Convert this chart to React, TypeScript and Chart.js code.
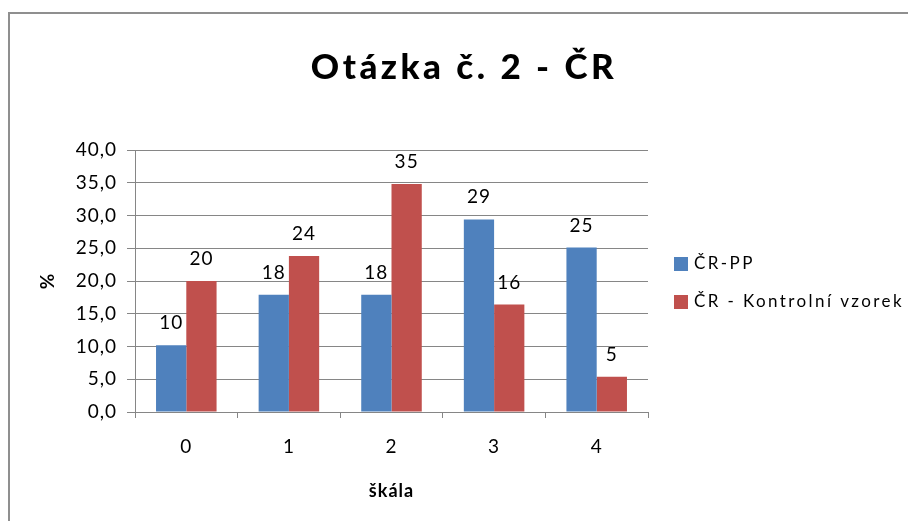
import React, { useEffect, useRef } from 'react';
import { Chart, registerables } from 'chart.js';

Chart.register(...registerables);

const categories = ['0', '1', '2', '3', '4'];
const seriesNames = ['ČR-PP', 'ČR - Kontrolní vzorek'];
const seriesPP = [10.2, 17.9, 17.9, 29.4, 25.1];
const seriesKV = [20.0, 23.8, 34.8, 16.4, 5.4];
const seriesColors = ['#4F81BD', '#C0504D'];
const titleText = 'Otázka č. 2 - ČR';
const xTitleText = 'škála';
const yTitleText = '%';
const yMin = 0;
const yMax = 40;
const yStep = 5;

const FONT = 'Lato, "Open Sans", sans-serif';
const GRID = '#868686';

const spacingPlugin = {
  id: 'spacing',
  beforeDraw(chart: any) {
    try { (chart.ctx as any).letterSpacing = '1px'; } catch (e) {}
  },
};

const titlePlugin = {
  id: 'customTitle',
  afterDraw(chart: any) {
    const ctx = chart.ctx;
    ctx.save();
    ctx.font = `900 35px ${FONT}`;
    ctx.fillStyle = '#000';
    ctx.textAlign = 'center';
    ctx.textBaseline = 'alphabetic';
    try { (ctx as any).letterSpacing = '3.5px'; } catch (e) {}
    ctx.fillText(titleText, 464, 79);
    ctx.restore();
  },
};

const labelPlugin = {
  id: 'barLabels',
  afterDatasetsDraw(chart: any) {
    const ctx = chart.ctx;
    ctx.save();
    ctx.font = `19px ${FONT}`;
    ctx.fillStyle = '#000';
    ctx.textAlign = 'center';
    ctx.textBaseline = 'alphabetic';
    chart.data.datasets.forEach((ds: any, i: number) => {
      const meta = chart.getDatasetMeta(i);
      meta.data.forEach((bar: any, j: number) => {
        const v = ds.data[j];
        ctx.fillText(String(Math.round(v)), bar.x, bar.y - 16);
      });
    });
    ctx.restore();
  },
};

const legendPlugin = {
  id: 'customLegend',
  afterDraw(chart: any) {
    const ctx = chart.ctx;
    ctx.save();
    ctx.font = `17px ${FONT}`;
    ctx.textBaseline = 'middle';
    ctx.textAlign = 'left';
    try { (ctx as any).letterSpacing = '2.4px'; } catch (e) {}
    chart.data.datasets.forEach((ds: any, i: number) => {
      const cy = 264 + i * 38;
      ctx.fillStyle = ds.backgroundColor;
      ctx.fillRect(674, cy - 7, 14, 14);
      ctx.fillStyle = '#000';
      ctx.fillText(ds.label, 694, cy);
    });
    ctx.restore();
  },
};

export default function App() {
  const ref = useRef<HTMLCanvasElement | null>(null);

  useEffect(() => {
    if (!ref.current) return;
    const chart = new Chart(ref.current, {
      type: 'bar',
      data: {
        labels: categories,
        datasets: [
          { label: seriesNames[0], data: seriesPP, backgroundColor: seriesColors[0], categoryPercentage: 0.59, barPercentage: 1.0 },
          { label: seriesNames[1], data: seriesKV, backgroundColor: seriesColors[1], categoryPercentage: 0.59, barPercentage: 1.0 },
        ],
      },
      options: {
        responsive: false,
        animation: false,
        layout: { padding: { left: 0, right: 260, top: 150, bottom: 0 } },
        plugins: {
          legend: { display: false },
          title: { display: false },
          tooltip: { enabled: false },
        },
        scales: {
          x: {
            offset: true,
            grid: { offset: true, drawOnChartArea: false, drawTicks: true, tickLength: 6, color: GRID },
            border: { color: GRID, width: 1 },
            ticks: { font: { family: FONT, size: 19 }, color: '#000', padding: 17, maxRotation: 0 },
            title: { display: true, text: xTitleText, font: { family: FONT, size: 18, weight: 'bold' }, color: '#000', padding: { top: 0, bottom: 19 } },
            afterFit(scale: any) { scale.height = 109; },
          },
          y: {
            min: yMin,
            max: yMax,
            grid: { color: GRID, tickLength: 8, drawTicks: true },
            border: { color: GRID, width: 1 },
            ticks: {
              stepSize: yStep,
              font: { family: FONT, size: 19 },
              color: '#000',
              padding: 10,
              callback: (v: any) => Number(v).toFixed(1).replace('.', ','),
            },
            title: { display: true, text: yTitleText, font: { family: FONT, size: 19, weight: 'bold' }, color: '#000', padding: { top: 36, bottom: 0 } },
            afterFit(scale: any) { scale.width = 135; },
          },
        },
      },
      plugins: [spacingPlugin, labelPlugin, titlePlugin, legendPlugin],
    });
    return () => chart.destroy();
  }, []);

  return (
    <div style={{ position: 'fixed', left: 0, top: 0, width: 908, height: 521, background: '#fff', overflow: 'hidden' }}>
      <div style={{ position: 'absolute', left: 8, top: 12, right: 0, bottom: 0, borderLeft: '2px solid #8f8f8f', borderTop: '2px solid #8f8f8f' }} />
      <canvas ref={ref} width={908} height={521} style={{ position: 'absolute', left: 0, top: 0, width: 908, height: 521 }} />
    </div>
  );
}
